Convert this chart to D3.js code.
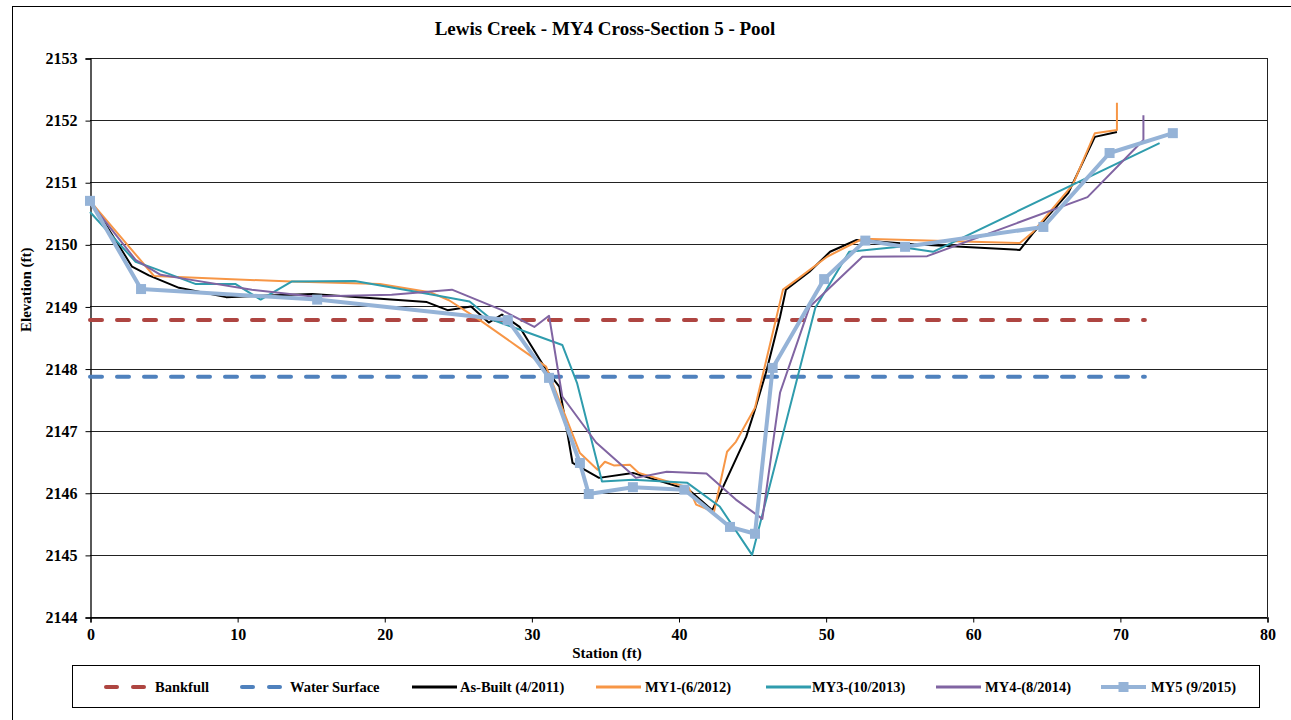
<!DOCTYPE html>
<html>
<head>
<meta charset="utf-8">
<script src="https://cdn.jsdelivr.net/npm/d3@7"></script>
<style>
html,body{margin:0;padding:0;background:#fff;}
svg{display:block;}
svg text{font-family:'Liberation Serif','DejaVu Serif',serif !important;font-weight:bold;fill:#000;}
</style>
</head>
<body>
<script>
// ---- data ----
const title = "Lewis Creek - MY4 Cross-Section 5 - Pool";
const xTicks = [0,10,20,30,40,50,60,70,80];
const yTicks = [2144,2145,2146,2147,2148,2149,2150,2151,2152,2153];

const bankfullStation = [0, 71.7];
const bankfullElev = [2148.78, 2148.78];
const waterStation = [0, 71.7];
const waterElev = [2147.87, 2147.87];

const asBuiltStation = [0,2.86,4.0,6.05,9.25,15.1,22.9,24.3,25.9,27.1,28.0,29.2,31.0,31.9,32.8,34.6,36.9,40.7,42.3,44.6,45.2,46.0,46.9,47.3,48.9,50.3,52.1,56.0,63.2,64.1,66.5,68.3,69.8];
const asBuiltElev = [2150.72,2149.64,2149.5,2149.30,2149.15,2149.2,2149.07,2148.94,2149.0,2148.74,2148.87,2148.67,2147.98,2147.71,2146.48,2146.24,2146.32,2146.05,2145.72,2146.9,2147.34,2147.98,2148.83,2149.27,2149.56,2149.88,2150.07,2150.0,2149.91,2150.18,2150.83,2151.73,2151.81];

const my1Station = [0,4.35,13.7,19.7,23.1,24.4,26.5,29.2,31.0,33.3,34.5,35.0,35.6,36.7,37.3,40.7,41.2,41.9,42.4,43.3,43.9,45.2,47.1,48.2,50.1,52.5,63.2,64.1,66.8,68.3,69.8,69.8];
const my1Elev = [2150.7,2149.49,2149.40,2149.36,2149.23,2149.1,2148.78,2148.33,2148.03,2146.64,2146.37,2146.5,2146.44,2146.45,2146.32,2146.08,2145.81,2145.74,2145.68,2146.66,2146.82,2147.37,2149.27,2149.46,2149.8,2150.09,2150.02,2150.2,2150.96,2151.79,2151.84,2152.28];

const my3Station = [0,3.1,4.5,7.2,9.9,11.6,13.7,18.0,23.3,25.8,27.3,32.1,33.1,34.8,36.9,40.6,42.8,45.0,49.3,51.6,55.0,57.3,72.7];
const my3Elev = [2150.52,2149.72,2149.6,2149.36,2149.36,2149.11,2149.40,2149.41,2149.19,2149.08,2148.79,2148.38,2147.77,2146.18,2146.21,2146.16,2145.78,2145.0,2148.98,2149.88,2149.96,2149.88,2151.63];

const my4Station = [0,3.1,4.8,6.05,11.0,15.1,20.5,24.6,28.0,30.2,31.2,32.1,34.4,37.1,39.2,41.9,43.9,45.7,46.9,48.9,52.5,56.9,67.8,71.6,71.6];
const my4Elev = [2150.68,2149.75,2149.51,2149.46,2149.27,2149.16,2149.19,2149.27,2148.94,2148.67,2148.85,2147.55,2146.81,2146.24,2146.34,2146.31,2145.89,2145.58,2147.61,2148.99,2149.80,2149.81,2150.76,2151.68,2152.08];

const my5Station = [0,3.47,15.44,28.4,31.2,33.3,33.9,36.9,40.4,43.5,45.2,46.4,49.9,52.7,55.4,64.8,69.3,73.6];
const my5Elev = [2150.70,2149.28,2149.11,2148.78,2147.85,2146.48,2145.98,2146.09,2146.05,2145.45,2145.34,2148.01,2149.44,2150.06,2149.96,2150.28,2151.47,2151.79];

const seriesNames = ["Bankfull","Water Surface","As-Built (4/2011)","MY1-(6/2012)","MY3-(10/2013)","MY4-(8/2014)","MY5 (9/2015)"];

// ---- chart ----
const W = 1291, H = 720;
const svg = d3.select("body").append("svg").attr("width", W).attr("height", H);

const plot = {left: 90, right: 1267, top: 58, bottom: 617};
const x = d3.scaleLinear().domain([0, 80]).range([plot.left, plot.right]);
const y = d3.scaleLinear().domain([2144, 2153]).range([plot.bottom, plot.top]);

// outer frame
svg.append("rect").attr("x", 12.5).attr("y", 6.5).attr("width", 1290).attr("height", 730)
  .attr("fill", "none").attr("stroke", "#000").attr("stroke-width", 1);

// gridlines
svg.append("g").selectAll("line").data(yTicks).join("line")
  .attr("x1", plot.left).attr("x2", plot.right)
  .attr("y1", d => Math.round(y(d)) + 0.5).attr("y2", d => Math.round(y(d)) + 0.5)
  .attr("stroke", "#222").attr("stroke-width", 1);
// right border
svg.append("line").attr("x1", plot.right + 0.5).attr("x2", plot.right + 0.5)
  .attr("y1", plot.top).attr("y2", plot.bottom).attr("stroke", "#222");

// axes
const yAxis = d3.axisLeft(y).tickValues(yTicks).tickSize(5).tickPadding(8).tickFormat(d3.format("d"));
const gy = svg.append("g").attr("transform", `translate(${plot.left + 0.5},0.5)`).call(yAxis);
gy.attr("font-family", null);
gy.selectAll("text").style("font-size", "16px");
const xAxis = d3.axisBottom(x).tickValues(xTicks).tickSize(5).tickPadding(6).tickFormat(d3.format("d"));
const gx = svg.append("g").attr("transform", `translate(0.5,${plot.bottom + 0.5})`).call(xAxis);
gx.attr("font-family", null);
gx.selectAll("text").style("font-size", "16px");
svg.selectAll(".domain").attr("stroke", "#000").attr("stroke-width", 1.3);
svg.selectAll(".tick line").attr("stroke", "#000");

// titles
svg.append("text").attr("x", 605).attr("y", 35).attr("text-anchor", "middle")
  .style("font-size", "19px").text(title);
svg.append("text").attr("x", 607).attr("y", 658).attr("text-anchor", "middle")
  .style("font-size", "15px").text("Station (ft)");
svg.append("text").attr("transform", "translate(31,332) rotate(-90)").attr("text-anchor", "start")
  .style("font-size", "15px").text("Elevation (ft)");

// series
const styles = [
  {st: bankfullStation, el: bankfullElev, color: "#AE4541", w: 4, dash: "12,15", cap: "round"},
  {st: waterStation, el: waterElev, color: "#4F81BD", w: 4, dash: "12,15", cap: "round"},
  {st: asBuiltStation, el: asBuiltElev, color: "#000000", w: 2},
  {st: my1Station, el: my1Elev, color: "#F79646", w: 2},
  {st: my3Station, el: my3Elev, color: "#2F9CAD", w: 2},
  {st: my4Station, el: my4Elev, color: "#8064A2", w: 2},
  {st: my5Station, el: my5Elev, color: "#95B3D7", w: 4, marker: true}
];
const line = d3.line().x(d => x(d[0])).y(d => y(d[1]));
styles.forEach(s => {
  const pts = s.st.map((v, i) => [v, s.el[i]]);
  svg.append("path").datum(pts).attr("d", line)
    .attr("fill", "none").attr("stroke", s.color).attr("stroke-width", s.w)
    .attr("stroke-linejoin", "round")
    .attr("stroke-linecap", s.cap || "butt")
    .attr("stroke-dasharray", s.dash || null);
  if (s.marker) {
    svg.append("g").selectAll("rect").data(pts).join("rect")
      .attr("x", d => x(d[0]) - 5).attr("y", d => y(d[1]) - 5)
      .attr("width", 10).attr("height", 10).attr("fill", s.color);
  }
});

// legend
const lg = {x: 72.5, y: 665.5, w: 1187, h: 42};
svg.append("rect").attr("x", lg.x).attr("y", lg.y).attr("width", lg.w).attr("height", lg.h)
  .attr("fill", "#fff").attr("stroke", "#000").attr("stroke-width", 1);
const legendPos = [[104,155],[240,290],[412,460],[596,645],[766,812],[936,985],[1101,1151]];
const ly = 687;
styles.forEach((s, i) => {
  const [sx, tx] = legendPos[i];
  if (s.dash) {
    svg.append("line").attr("x1", sx + 2).attr("x2", sx + 13).attr("y1", ly).attr("y2", ly)
      .attr("stroke", s.color).attr("stroke-width", 4).attr("stroke-linecap", "round");
    svg.append("line").attr("x1", sx + 29).attr("x2", sx + 40).attr("y1", ly).attr("y2", ly)
      .attr("stroke", s.color).attr("stroke-width", 4).attr("stroke-linecap", "round");
  } else {
    svg.append("line").attr("x1", sx).attr("x2", sx + 45).attr("y1", ly).attr("y2", ly)
      .attr("stroke", s.color).attr("stroke-width", s.w === 4 ? 4 : 3);
    if (s.marker) {
      svg.append("rect").attr("x", sx + 22.5 - 5).attr("y", ly - 5).attr("width", 10).attr("height", 10)
        .attr("fill", s.color);
    }
  }
  svg.append("text").attr("x", tx).attr("y", ly + 5).style("font-size", "14.5px").text(seriesNames[i]);
});
</script>
</body>
</html>
